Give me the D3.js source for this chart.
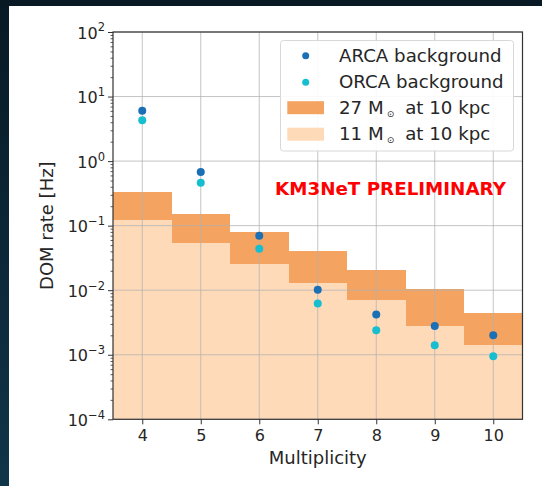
<!DOCTYPE html>
<html>
<head>
<meta charset="utf-8">
<script src="https://cdn.jsdelivr.net/npm/d3@7"></script>
<style>
  html, body { margin: 0; padding: 0; background: #0b1e2b; }
  svg { display: block; }
  text { font-family: "DejaVu Sans", sans-serif; fill: #262626; }
</style>
</head>
<body>
<svg id="chart" width="542" height="486"></svg>
<script>
// Hit multiplicity on a DOM
const multiplicity = [4, 5, 6, 7, 8, 9, 10];
// Background rates [Hz]
const arcaRate = [6.0, 0.68, 0.070, 0.0102, 0.0042, 0.0028, 0.0020];
const orcaRate = [4.3, 0.46, 0.044, 0.0062, 0.0024, 0.0014, 0.00095];
// Supernova signal rates [Hz], per multiplicity bin
const rate27 = [0.336, 0.150, 0.079, 0.041, 0.0203, 0.0106, 0.0044];
const rate11 = [0.121, 0.054, 0.0255, 0.0128, 0.0070, 0.0028, 0.00142];
// Axis ticks
const yExponents = [-4, -3, -2, -1, 0, 1, 2];
const xTicks = [4, 5, 6, 7, 8, 9, 10];
const legendLabels = ["ARCA background", "ORCA background", "27", "11"];

const colArca = "#1a6fb5", colOrca = "#17becf";
const col27 = "#f4a460", col11 = "#ffdab9";

const svg = d3.select("#chart");

// page backdrop
const defs = svg.append("defs");
const grad = defs.append("linearGradient").attr("id", "bg").attr("x1", 0).attr("y1", 0).attr("x2", 0).attr("y2", 1);
grad.append("stop").attr("offset", "0%").attr("stop-color", "#081924");
grad.append("stop").attr("offset", "100%").attr("stop-color", "#103549");
svg.append("rect").attr("width", 542).attr("height", 486).attr("fill", "url(#bg)");
svg.append("rect").attr("x", 9).attr("y", 6).attr("width", 533).attr("height", 480).attr("fill", "#ffffff");

const L = 113, R = 522.5, T = 32, B = 419.3;
const x = d3.scaleLinear().domain([3.5, 10.5]).range([L, R]);
const y = d3.scaleLog().domain([1e-4, 1e2]).range([B, T]);

// 11 Msun band (from the bottom)
svg.append("g").selectAll("rect").data(multiplicity).join("rect")
  .attr("x", d => x(d - 0.5))
  .attr("width", d => x(d + 0.5) - x(d - 0.5))
  .attr("y", (d, i) => y(rate11[i]))
  .attr("height", (d, i) => y(1e-4) - y(rate11[i]))
  .attr("fill", col11).attr("shape-rendering", "crispEdges");

// 27 Msun band (stacked above the 11 Msun level)
svg.append("g").selectAll("rect").data(multiplicity).join("rect")
  .attr("x", d => x(d - 0.5))
  .attr("width", d => x(d + 0.5) - x(d - 0.5))
  .attr("y", (d, i) => y(rate27[i]))
  .attr("height", (d, i) => y(rate11[i]) - y(rate27[i]))
  .attr("fill", col27).attr("shape-rendering", "crispEdges");

// grid
const grid = svg.append("g").attr("stroke", "#b0b0b0").attr("stroke-opacity", 0.75).attr("stroke-width", 1);
grid.selectAll("line.gx").data(xTicks).join("line").attr("class", "gx")
  .attr("x1", d => x(d)).attr("x2", d => x(d)).attr("y1", T).attr("y2", B);
grid.selectAll("line.gy").data(yExponents).join("line").attr("class", "gy")
  .attr("x1", L).attr("x2", R).attr("y1", d => y(Math.pow(10, d))).attr("y2", d => y(Math.pow(10, d)));

// points
svg.append("g").selectAll("circle").data(multiplicity).join("circle")
  .attr("cx", d => x(d)).attr("cy", (d, i) => y(arcaRate[i])).attr("r", 4).attr("fill", colArca);
svg.append("g").selectAll("circle").data(multiplicity).join("circle")
  .attr("cx", d => x(d)).attr("cy", (d, i) => y(orcaRate[i])).attr("r", 4).attr("fill", colOrca);

// y axis: major ticks with 10^n labels
const yAxis = d3.axisLeft(y).tickValues(yExponents.map(e => Math.pow(10, e))).tickSize(5).tickPadding(7).tickFormat("");
const gy = svg.append("g").attr("transform", `translate(${L},0)`).call(yAxis);
gy.select(".domain").remove();
gy.selectAll(".tick line").attr("stroke", "#333");
gy.selectAll(".tick text").each(function (d) {
  const t = d3.select(this).attr("font-size", 16).attr("fill", "#262626").attr("dy", "0.38em").attr("x", -8)
    .attr("font-family", "DejaVu Sans, sans-serif");
  const e = Math.round(Math.log10(d));
  t.append("tspan").text("10");
  t.append("tspan").attr("font-size", 11.5).attr("dy", "-0.62em")
    .text(e < 0 ? "\u2212" + Math.abs(e) : String(e));
});

// y axis: minor ticks
const minor = [];
for (let e = -4; e < 2; e++) for (let k = 2; k <= 9; k++) minor.push(k * Math.pow(10, e));
const gym = svg.append("g").attr("transform", `translate(${L},0)`)
  .call(d3.axisLeft(y).tickValues(minor).tickSize(2.5).tickFormat(""));
gym.select(".domain").remove();
gym.selectAll(".tick line").attr("stroke", "#333").attr("stroke-width", 0.8);

// x axis
const gx = svg.append("g").attr("transform", `translate(0,${B})`)
  .call(d3.axisBottom(x).tickValues(xTicks).tickSize(5).tickPadding(5).tickFormat(d3.format("d")));
gx.select(".domain").remove();
gx.selectAll(".tick line").attr("stroke", "#333");
gx.selectAll(".tick text").attr("font-size", 16).attr("fill", "#262626")
  .attr("font-family", "DejaVu Sans, sans-serif");

// frame
svg.append("rect").attr("x", L).attr("y", T).attr("width", R - L).attr("height", B - T)
  .attr("fill", "none").attr("stroke", "#333").attr("stroke-width", 1.2);

// axis labels
svg.append("text").attr("x", (L + R) / 2).attr("y", 464).attr("text-anchor", "middle")
  .attr("font-size", 18).text("Multiplicity");
svg.append("text").attr("transform", `translate(53,${(T + B) / 2}) rotate(-90)`)
  .attr("text-anchor", "middle").attr("font-size", 18).text("DOM rate [Hz]");

// legend
const lg = svg.append("g");
lg.append("rect").attr("x", 280.5).attr("y", 40.5).attr("width", 233).attr("height", 110.5)
  .attr("rx", 3).attr("fill", "#ffffff").attr("fill-opacity", 0.9).attr("stroke", "#d8d8d8");
const rows = [55.7, 82.3, 107.7, 134.2];
lg.append("circle").attr("cx", 305.7).attr("cy", rows[0]).attr("r", 3.5).attr("fill", colArca);
lg.append("circle").attr("cx", 305.7).attr("cy", rows[1]).attr("r", 3.5).attr("fill", colOrca);
lg.append("rect").attr("x", 287.3).attr("y", rows[2] - 6.5).attr("width", 36.7).attr("height", 13).attr("fill", col27);
lg.append("rect").attr("x", 287.3).attr("y", rows[3] - 6.5).attr("width", 36.7).attr("height", 13).attr("fill", col11);
[0, 1].forEach(i => {
  lg.append("text").attr("x", 339).attr("y", rows[i] + 6).attr("font-size", 18.2).text(legendLabels[i]);
});
[2, 3].forEach(i => {
  const t = lg.append("text").attr("x", 339).attr("y", rows[i] + 6).attr("font-size", 18.2);
  t.append("tspan").text(legendLabels[i] + " M");
  t.append("tspan").attr("font-size", 9).attr("dx", 3).attr("dy", 3).text("\u2299");
  t.append("tspan").attr("dy", -3).attr("dx", 11).text("at 10 kpc");
});

// watermark
svg.append("text").attr("x", 390.5).attr("y", 194.5).attr("text-anchor", "middle")
  .attr("font-size", 18.3).attr("font-weight", "bold").style("fill", "#ff0000")
  .text("KM3NeT PRELIMINARY");
</script>
</body>
</html>
